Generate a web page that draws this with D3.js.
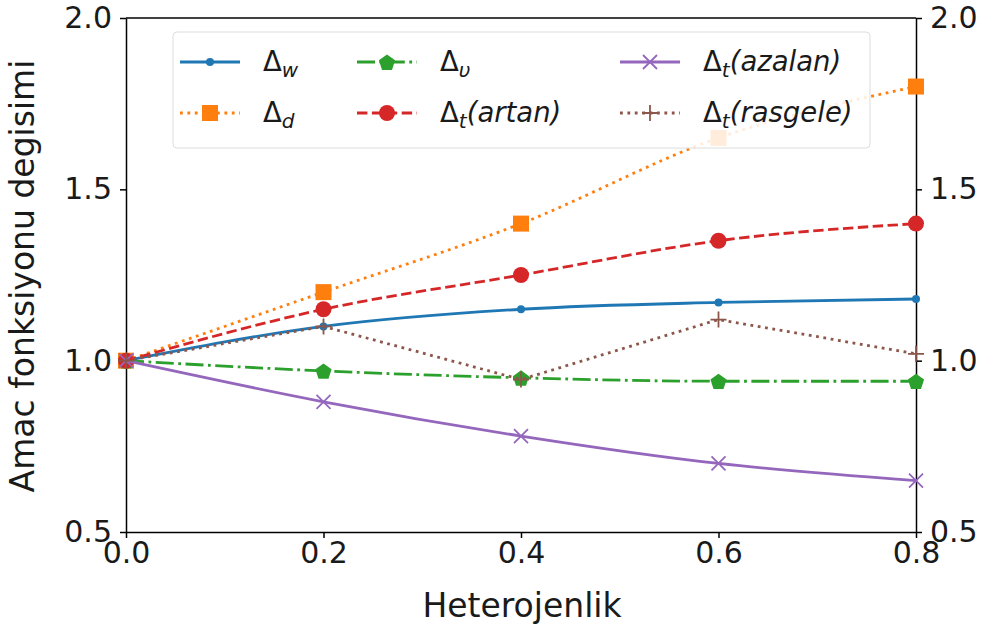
<!DOCTYPE html>
<meta charset="utf-8">
<style>
body { margin: 0; background: #fff; }
text { font-family: "DejaVu Sans", sans-serif; fill: #1a1a1a; }
.axis path, .axis line { stroke: #000; stroke-width: 1.5; }
.line { fill: none; stroke-width: 2.8; }
</style>
<body></body>
<script src="https://d3js.org/d3.v7.min.js"></script>
<script>
// x values (heterogeneity levels)
var xVals = [0.0, 0.2, 0.4, 0.6, 0.8];
var xTicks = [0.0, 0.2, 0.4, 0.6, 0.8];
var yTicks = [0.5, 1.0, 1.5, 2.0];

// series values
var deltaW = [1.0, 1.10, 1.15, 1.17, 1.18];
var deltaD = [1.0, 1.20, 1.40, 1.65, 1.80];
var deltaU = [1.0, 0.97, 0.95, 0.94, 0.94];
var artan = [1.0, 1.15, 1.25, 1.35, 1.40];
var azalan = [1.0, 0.88, 0.78, 0.70, 0.65];
var rasgele = [1.0, 1.10, 0.945, 1.12, 1.02];

var series = [
  {key: "w", vals: deltaW, color: "#1f77b4", dash: null, marker: "dot", smooth: true},
  {key: "d", vals: deltaD, color: "#ff7f0e", dash: "2.8,4.6", marker: "square", smooth: true},
  {key: "u", vals: deltaU, color: "#2ca02c", dash: "18,4.5,2.8,4.5", marker: "pentagon", smooth: true},
  {key: "artan", vals: artan, color: "#d62728", dash: "10.4,4.5", marker: "circle", smooth: true},
  {key: "azalan", vals: azalan, color: "#9467bd", dash: null, marker: "x", smooth: true},
  {key: "rasgele", vals: rasgele, color: "#8c564b", dash: "2.8,4.6", marker: "plus", smooth: false}
];

var margin = {top: 18, right: 74, bottom: 94, left: 126};
var W = 990, H = 626;
var width = W - margin.left - margin.right,
    height = H - margin.top - margin.bottom;

var x = d3.scaleLinear().domain([0, 0.8]).range([0, width]);
var y = d3.scaleLinear().domain([0.5, 2.0]).range([height, 0]);

var svg = d3.select("body").append("svg")
    .attr("width", W).attr("height", H)
  .append("g")
    .attr("transform", "translate(" + margin.left + "," + margin.top + ")");

svg.append("defs").append("clipPath").attr("id", "clip")
  .append("rect").attr("x", -12).attr("y", -12).attr("width", width + 24).attr("height", height + 24);

function pentagon(r) {
  var pts = d3.range(5).map(function(i) {
    var a = -Math.PI / 2 + i * 2 * Math.PI / 5;
    return [r * Math.cos(a), r * Math.sin(a)];
  });
  return "M" + pts.join("L") + "Z";
}

function drawMarker(g, type, color) {
  if (type === "dot") {
    g.append("circle").attr("r", 4).attr("fill", color);
  } else if (type === "square") {
    g.append("rect").attr("x", -8).attr("y", -8).attr("width", 16).attr("height", 16).attr("fill", color);
  } else if (type === "circle") {
    g.append("circle").attr("r", 8).attr("fill", color);
  } else if (type === "pentagon") {
    g.append("path").attr("d", pentagon(8.5)).attr("transform", "translate(0,1)").attr("fill", color);
  } else if (type === "x") {
    g.append("path").attr("d", "M-7,-7L7,7M-7,7L7,-7").attr("stroke", color).attr("stroke-width", 1.8);
  } else if (type === "plus") {
    g.append("path").attr("d", "M-8,0L8,0M0,-8L0,8").attr("stroke", color).attr("stroke-width", 1.8);
  }
}

// axes
var fmt = d3.format(".1f");
var xAxis = svg.append("g").attr("class", "axis")
  .attr("transform", "translate(0," + height + ")")
  .call(d3.axisBottom(x).tickValues(xTicks).tickFormat(fmt).tickSizeInner(6).tickSizeOuter(0).tickPadding(4));
var yAxisL = svg.append("g").attr("class", "axis")
  .call(d3.axisLeft(y).tickValues(yTicks).tickFormat(fmt).tickSizeInner(6).tickSizeOuter(0).tickPadding(8));
var yAxisR = svg.append("g").attr("class", "axis")
  .attr("transform", "translate(" + width + ",0)")
  .call(d3.axisRight(y).tickValues(yTicks).tickFormat(fmt).tickSizeInner(6).tickSizeOuter(0).tickPadding(8));
[xAxis, yAxisL, yAxisR].forEach(function(a) {
  a.attr("font-family", null).attr("font-size", null);
  a.selectAll("text").style("font-size", "30px").style("fill", "#1a1a1a");
});
svg.append("line").attr("x1", 0).attr("x2", width).attr("y1", 0).attr("y2", 0)
  .attr("stroke", "#000").attr("stroke-width", 1.5);

svg.append("text")
  .attr("x", width / 2 + 1).attr("y", height + 85)
  .attr("text-anchor", "middle").style("font-size", "33px")
  .text("Heterojenlik");
svg.append("text")
  .attr("transform", "rotate(-90)")
  .attr("x", -height / 2 - 1).attr("y", -92)
  .attr("text-anchor", "middle").style("font-size", "33px")
  .text("Amac fonksiyonu degisimi");

// lines and markers
var plot = svg.append("g").attr("clip-path", "url(#clip)");
series.forEach(function(s) {
  var pts = s.vals.map(function(v, i) { return {x: xVals[i], y: v}; });
  var line = d3.line()
    .x(function(d) { return x(d.x); })
    .y(function(d) { return y(d.y); })
    .curve(s.smooth ? d3.curveMonotoneX : d3.curveLinear);
  plot.append("path").datum(pts).attr("class", "line")
    .attr("stroke", s.color)
    .attr("stroke-dasharray", s.dash)
    .attr("d", line);
  pts.forEach(function(p) {
    var g = plot.append("g").attr("transform", "translate(" + x(p.x) + "," + y(p.y) + ")");
    drawMarker(g, s.marker, s.color);
  });
});

// legend
var legend = svg.append("g").attr("transform", "translate(47,14)");
legend.append("rect").attr("width", 697).attr("height", 116).attr("rx", 4)
  .attr("fill", "#fff").attr("fill-opacity", 0.85)
  .attr("stroke", "#ddd").attr("stroke-width", 1);

var legendItems = [
  {s: series[0], col: 0, row: 0, sub: "w", rest: ""},
  {s: series[1], col: 0, row: 1, sub: "d", rest: ""},
  {s: series[2], col: 1, row: 0, sub: "υ", rest: ""},
  {s: series[3], col: 1, row: 1, sub: "t", rest: "(artan)"},
  {s: series[4], col: 2, row: 0, sub: "t", rest: "(azalan)"},
  {s: series[5], col: 2, row: 1, sub: "t", rest: "(rasgele)"}
];
var colX = [7, 184, 447];
var rowY = [30, 81];
legendItems.forEach(function(it) {
  var g = legend.append("g").attr("transform", "translate(" + colX[it.col] + "," + rowY[it.row] + ")");
  g.append("line").attr("x1", 0).attr("x2", 60).attr("y1", 0).attr("y2", 0)
    .attr("stroke", it.s.color).attr("stroke-width", 2.8)
    .attr("stroke-dasharray", it.s.dash);
  var m = g.append("g").attr("transform", "translate(30,0)");
  drawMarker(m, it.s.marker, it.s.color);
  var t = g.append("text").attr("x", 83).attr("y", 9).style("font-size", "27.5px");
  t.append("tspan").text("Δ");
  t.append("tspan").attr("dy", 6).style("font-size", "20px").style("font-style", "italic").text(it.sub);
  if (it.rest) {
    t.append("tspan").attr("dy", -6).style("font-style", "italic").text(it.rest);
  }
});
</script>
